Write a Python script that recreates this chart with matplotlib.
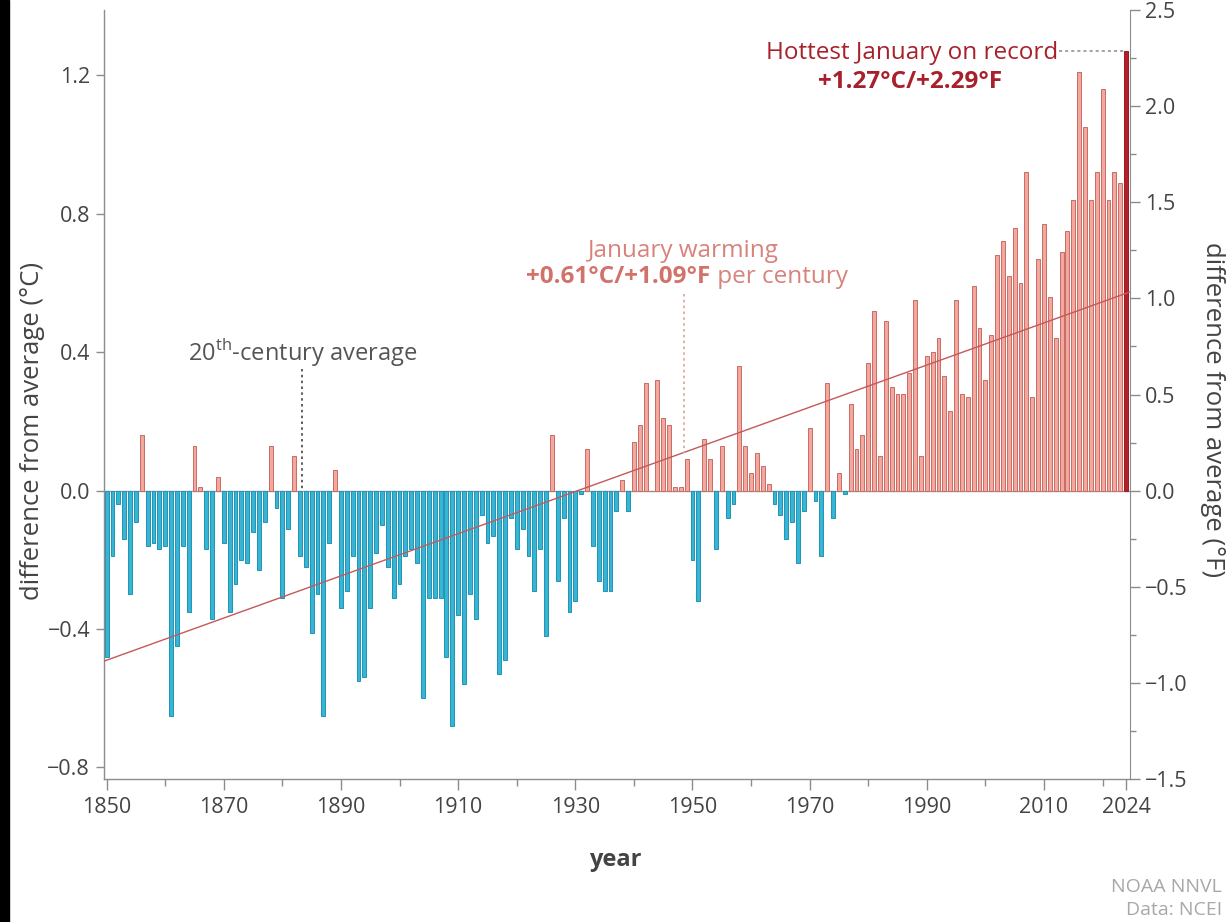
import numpy as np
import matplotlib
matplotlib.use("Agg")
import matplotlib.pyplot as plt
from matplotlib.ticker import MultipleLocator, FixedLocator
from matplotlib.patches import Rectangle

plt.rcParams['font.family'] = ['Open Sans', 'DejaVu Sans']
plt.rcParams['mathtext.fontset'] = 'custom'
plt.rcParams['mathtext.rm'] = 'Open Sans'

# ---------------- data ----------------
first_year = 1850
anomalies_c = [
    # 1850s
    -0.48, -0.19, -0.04, -0.14, -0.30, -0.09, 0.16, -0.16, -0.15, -0.17,
    # 1860s
    -0.16, -0.65, -0.45, -0.16, -0.35, 0.13, 0.01, -0.17, -0.37, 0.04,
    # 1870s
    -0.15, -0.35, -0.27, -0.20, -0.21, -0.12, -0.23, -0.09, 0.13, -0.05,
    # 1880s
    -0.31, -0.11, 0.10, -0.19, -0.22, -0.41, -0.30, -0.65, -0.15, 0.06,
    # 1890s
    -0.34, -0.29, -0.19, -0.55, -0.54, -0.34, -0.18, -0.10, -0.22, -0.31,
    # 1900s
    -0.27, -0.19, -0.17, -0.21, -0.60, -0.31, -0.31, -0.31, -0.48, -0.68,
    # 1910s
    -0.36, -0.56, -0.30, -0.37, -0.07, -0.15, -0.13, -0.53, -0.49, -0.08,
    # 1920s
    -0.17, -0.11, -0.19, -0.29, -0.17, -0.42, 0.16, -0.26, -0.08, -0.35,
    # 1930s
    -0.32, -0.01, 0.12, -0.16, -0.26, -0.29, -0.29, -0.06, 0.03, -0.06,
    # 1940s
    0.14, 0.19, 0.31, 0.00, 0.32, 0.21, 0.19, 0.01, 0.01, 0.09,
    # 1950s
    -0.20, -0.32, 0.15, 0.09, -0.17, 0.13, -0.08, -0.04, 0.36, 0.13,
    # 1960s
    0.05, 0.11, 0.07, 0.02, -0.04, -0.07, -0.14, -0.09, -0.21, -0.06,
    # 1970s
    0.18, -0.03, -0.19, 0.31, -0.08, 0.05, -0.01, 0.25, 0.12, 0.16,
    # 1980s
    0.37, 0.52, 0.10, 0.49, 0.30, 0.28, 0.28, 0.34, 0.55, 0.10,
    # 1990s
    0.39, 0.40, 0.44, 0.33, 0.23, 0.55, 0.28, 0.27, 0.59, 0.47,
    # 2000s
    0.32, 0.45, 0.68, 0.72, 0.62, 0.76, 0.60, 0.92, 0.27, 0.67,
    # 2010s
    0.77, 0.56, 0.44, 0.69, 0.75, 0.84, 1.21, 1.05, 0.84, 0.92,
    # 2020s
    1.16, 0.84, 0.92, 0.89, 1.27,
]
years = np.arange(first_year, first_year + len(anomalies_c))

trend_years = [1850, 2024]
trend_values_c = [-0.49, 0.57]

x_major_ticks = [1850, 1870, 1890, 1910, 1930, 1950, 1970, 1990, 2010, 2024]
x_minor_ticks = [1860, 1880, 1900, 1920, 1940, 1960, 1980, 2000, 2020]
yc_ticks = [-0.8, -0.4, 0.0, 0.4, 0.8, 1.2]
yf_ticks = [-1.5, -1.0, -0.5, 0.0, 0.5, 1.0, 1.5, 2.0, 2.5]

# ---------------- figure ----------------
W, H = 1228, 922
fig = plt.figure(figsize=(W / 100, H / 100), dpi=100)
fig.patch.set_facecolor('white')

def fx(px):
    return px / W

def fy(py):
    return 1 - py / H

ax_l, ax_r, ax_t, ax_b = 104, 1130, 10, 779
ax = fig.add_axes([fx(ax_l), fy(ax_b), (ax_r - ax_l) / W, (ax_b - ax_t) / H])

vals = np.array(anomalies_c)
is_last = years == years[-1]
neg = vals < 0
pos = (vals >= 0) & ~is_last

bw = 0.66
ax.bar(years[neg], vals[neg], width=bw, color='#38b5d5', edgecolor='#1f94b5',
       linewidth=0.7, zorder=2)
ax.bar(years[pos], vals[pos], width=bw, color='#f2a79f', edgecolor='#c86c64',
       linewidth=0.7, zorder=2)
ax.bar(years[is_last], vals[is_last], width=bw, color='#b3202a',
       edgecolor='#9c1822', linewidth=0.7, zorder=2)

ax.axhline(0, color='#9a9a9a', lw=1.0, zorder=1)

xl = (1849.55, 2024.68)
coef = np.polyfit(trend_years, trend_values_c, 1)
ax.plot(xl, np.polyval(coef, xl), color='#c4585a', lw=1.0, zorder=3)

ax.set_xlim(*xl)
yf_lim = (-1.5, 2.5)
ax.set_ylim(yf_lim[0] / 1.8, yf_lim[1] / 1.8)

spine_col = '#8c8c8c'
tick_lbl_col = '#444444'
ax.spines['top'].set_visible(False)
ax.spines['right'].set_visible(False)
for s in ['left', 'bottom']:
    ax.spines[s].set_color(spine_col)
    ax.spines[s].set_linewidth(1.0)

tick_fs = 15.5
ax.xaxis.set_major_locator(FixedLocator(x_major_ticks))
ax.xaxis.set_minor_locator(FixedLocator(x_minor_ticks))
ax.set_xticklabels([str(t) for t in x_major_ticks])
ax.set_yticks(yc_ticks)
ax.set_yticklabels([('\u2212' + f'{abs(t):.1f}') if t < 0 else f'{t:.1f}'
                    for t in yc_ticks])
ax.tick_params(axis='x', which='major', length=8, width=1, color=spine_col,
               labelsize=tick_fs, labelcolor=tick_lbl_col, pad=5)
ax.tick_params(axis='x', which='minor', length=5, width=1, color=spine_col)
ax.tick_params(axis='y', which='major', length=6, width=1, color=spine_col,
               labelsize=tick_fs, labelcolor=tick_lbl_col, pad=4)

axr = ax.twinx()
axr.set_ylim(*yf_lim)
axr.set_yticks(yf_ticks)
axr.set_yticklabels([('\u2212' + f'{abs(t):.1f}') if t < 0 else f'{t:.1f}' for t in yf_ticks])
axr.yaxis.set_minor_locator(MultipleLocator(0.25))
for s in ['top', 'left', 'bottom']:
    axr.spines[s].set_visible(False)
axr.spines['right'].set_color(spine_col)
axr.tick_params(axis='y', which='major', length=7, width=1, color=spine_col,
                labelsize=tick_fs, labelcolor=tick_lbl_col, pad=4)
axr.tick_params(axis='y', which='minor', length=4, width=1, color=spine_col)

# axis labels
fig.text(fx(33), fy(431), 'difference from average (\u00b0C)', rotation=90,
         ha='center', va='center', fontsize=18.5, color='#444444')
fig.text(fx(1212), fy(410), 'difference from average (\u00b0F)', rotation=270,
         ha='center', va='center', fontsize=18.5, color='#444444')
fig.text(fx(615), fy(860), 'year', ha='center', va='center', fontsize=17,
         fontweight='bold', color='#444444')

# footer
fig.text(fx(1222), fy(887), 'NOAA NNVL', ha='right', va='center', fontsize=14,
         color='#a8a8a8')
fig.text(fx(1222), fy(910), 'Data: NCEI', ha='right', va='center', fontsize=14,
         color='#a8a8a8')

# 20th-century average annotation
fig.text(fx(303), fy(353), r'20$^{\mathrm{th}}$-century average', ha='center',
         va='center', fontsize=17, color='#555555')
ax.plot([1883.4, 1883.4], [(490 - 368) / 348, 0], color='#444444', lw=1.2,
        ls=(0, (1.5, 2)), zorder=4)

renderer = fig.canvas.get_renderer()

def centered_pieces(pieces, cx, cy, size):
    texts = []
    for s, w, c in pieces:
        t = fig.text(0, fy(cy), s, ha='left', va='center', fontsize=size,
                     fontweight=w, color=c)
        texts.append(t)
    widths = [t.get_window_extent(renderer).width for t in texts]
    total = sum(widths)
    x = cx - total / 2
    for t, wdt in zip(texts, widths):
        t.set_x(fx(x))
        x += wdt

# January warming annotation
warm_col = '#d7827b'
fig.text(fx(683), fy(251), 'January warming', ha='center', va='center',
         fontsize=17.5, color=warm_col)
centered_pieces([('+0.61\u00b0C/+1.09\u00b0F', 'bold', '#d2736b'),
                 (' per century', 'normal', warm_col)], 687, 277, 17.5)
x_warm = 1948.5
ax.plot([x_warm, x_warm], [(490 - 292) / 348, np.polyval(coef, x_warm)],
        color='#e0a09a', lw=1.2, ls=(0, (1.5, 2)), zorder=4)

# Hottest January annotation
hot_col = '#a8202b'
fig.text(fx(1058), fy(53), 'Hottest January on record', ha='right', va='center',
         fontsize=17.5, color=hot_col)
fig.text(fx(910), fy(82), '+1.27\u00b0C/+2.29\u00b0F', ha='center', va='center',
         fontsize=17.5, fontweight='bold', color=hot_col)
ax.plot([2012.6, 2023.6], [vals[-1], vals[-1]], color='#8a8a8a', lw=1.1,
        ls=(0, (2, 2)), zorder=4)

# dark strip on the left edge of the reference image
fig.add_artist(Rectangle((0, 0), fx(9), 1, transform=fig.transFigure,
                         color='black', zorder=10))

fig.savefig('out.png', dpi=100)
